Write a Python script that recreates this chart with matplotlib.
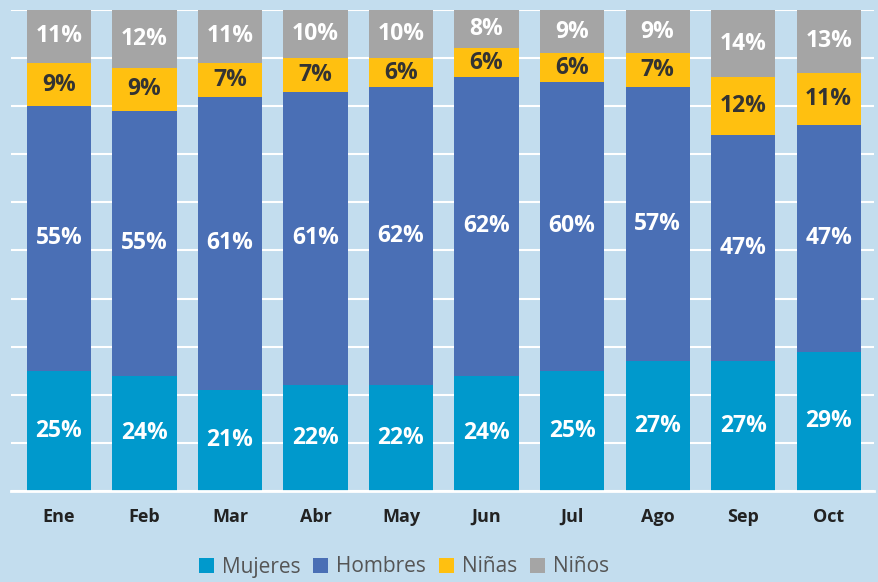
import matplotlib
matplotlib.use("Agg")
import matplotlib.pyplot as plt
from matplotlib.patches import Patch
import numpy as np

plt.rcParams["font.family"] = ["Open Sans", "DejaVu Sans"]

months = ["Ene", "Feb", "Mar", "Abr", "May", "Jun", "Jul", "Ago", "Sep", "Oct"]
mujeres = [25, 24, 21, 22, 22, 24, 25, 27, 27, 29]
hombres = [55, 55, 61, 61, 62, 62, 60, 57, 47, 47]
ninas = [9, 9, 7, 7, 6, 6, 6, 7, 12, 11]
ninos = [11, 12, 11, 10, 10, 8, 9, 9, 14, 13]

series = [
    ("Mujeres", mujeres, "#0099cc", "white"),
    ("Hombres", hombres, "#4a6fb5", "white"),
    ("Niñas", ninas, "#ffc010", "#333333"),
    ("Niños", ninos, "#a5a5a5", "white"),
]

BG = "#c3ddee"

fig = plt.figure(figsize=(8.79, 5.82), dpi=100, facecolor=BG)
ax = fig.add_axes([11 / 879, 1 - 491 / 582, 863 / 879, 481 / 582])
ax.set_facecolor(BG)

x = np.arange(len(months))
bottom = np.zeros(len(months))
for name, vals, color, tcolor in series:
    vals = np.array(vals, dtype=float)
    ax.bar(x, vals, bottom=bottom, width=0.75, color=color, zorder=3)
    for xi, b, v in zip(x, bottom, vals):
        ax.text(xi, b + v / 2, f"{int(v)}%", ha="center", va="center",
                color=tcolor, fontsize=16.5, fontweight="bold", zorder=4)
    bottom += vals

ax.set_xlim(-0.56, 9.53)
ax.set_ylim(0, 100)
ax.set_yticks(np.arange(0, 101, 10))
ax.set_yticklabels([])
ax.grid(axis="y", color="white", linewidth=1.5, zorder=1)
ax.tick_params(axis="both", length=0)
for s in ["top", "right", "left"]:
    ax.spines[s].set_visible(False)
ax.spines["bottom"].set_color("white")
ax.spines["bottom"].set_linewidth(2)
ax.spines["bottom"].set_zorder(5)

ax.set_xticks(x)
ax.set_xticklabels(months, fontsize=13, fontweight="bold", color="#222222")
ax.tick_params(axis="x", pad=12)

handles = [Patch(facecolor=c, label=n) for n, _, c, _ in series]
fig.legend(handles=handles, loc="center", bbox_to_anchor=(404 / 879, 1 - 567 / 582),
           ncol=4, frameon=False, fontsize=15, labelcolor="#555555",
           handlelength=0.72, handleheight=0.72, handletextpad=0.4, columnspacing=0.6)

fig.savefig("out.png", dpi=100, facecolor=BG)
